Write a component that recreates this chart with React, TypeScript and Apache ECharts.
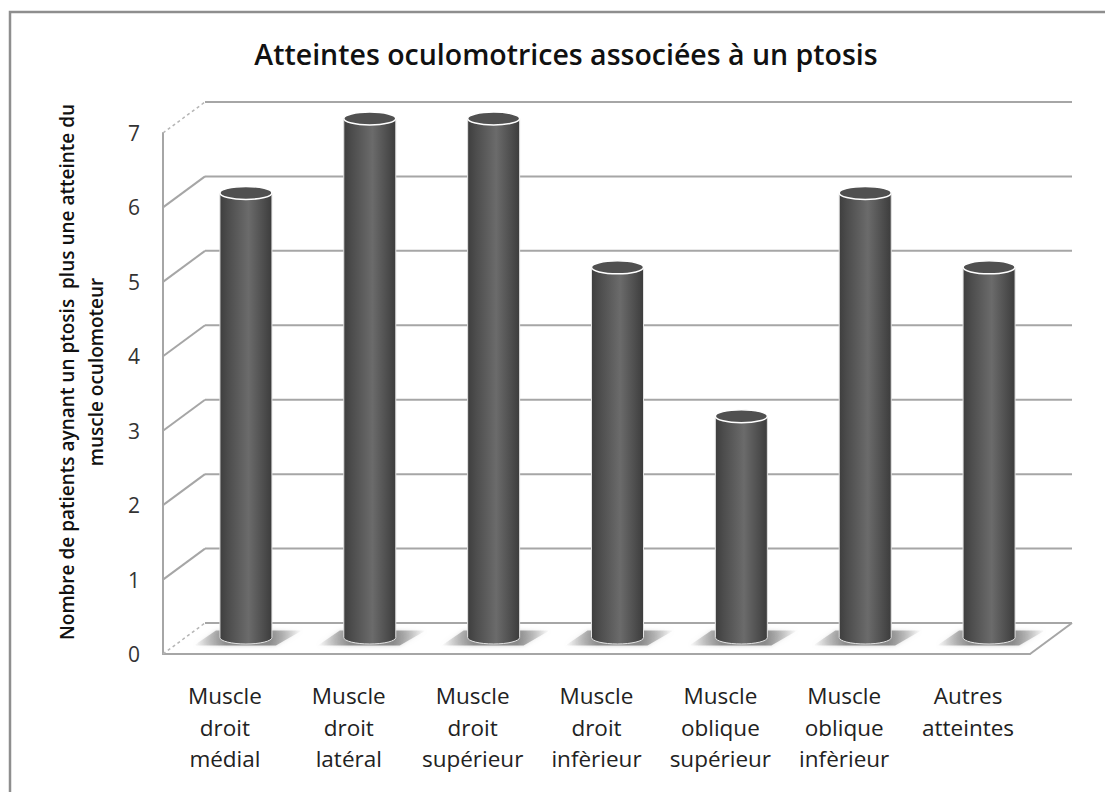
import React, { useEffect, useRef } from "react";
import * as echarts from "echarts";

const chartTitle = "Atteintes oculomotrices associées à un ptosis";
const yAxisTitle = "Nombre de patients aynant un ptosis  plus une atteinte du\nmuscle oculomoteur";
const categories = [
  "Muscle\ndroit\nmédial",
  "Muscle\ndroit\nlatéral",
  "Muscle\ndroit\nsupérieur",
  "Muscle\ndroit\ninfèrieur",
  "Muscle\noblique\nsupérieur",
  "Muscle\noblique\ninfèrieur",
  "Autres\natteintes",
];
const patients = [6, 7, 7, 5, 3, 6, 5];
const yTicks = [0, 1, 2, 3, 4, 5, 6, 7];

// Oblique projection of the pseudo-3D chart box
const DEPTH_X = 42;
const DEPTH_Y = -31;
const WALL = "#a6a6a6";
const FONT = "'Open Sans', Lato, sans-serif";

function horizontal(stops: [number, string][]) {
  return {
    type: "linear",
    x: 0,
    y: 0,
    x2: 1,
    y2: 0,
    colorStops: stops.map(([offset, color]) => ({ offset, color })),
  };
}

function renderWall(params: any, api: any) {
  const v = api.value(1);
  const y = api.coord([0, v])[1];
  const left = params.coordSys.x;
  const right = left + params.coordSys.width;
  const isEdge = v === 0 || v === 7;
  return {
    type: "group",
    children: [
      {
        type: "line",
        shape: { x1: left, y1: y, x2: left + DEPTH_X, y2: y + DEPTH_Y },
        style: { stroke: isEdge ? "#b5b5b5" : WALL, lineWidth: isEdge ? 1.5 : 2, lineDash: isEdge ? [3, 3] : undefined },
      },
      {
        type: "line",
        shape: { x1: left + DEPTH_X, y1: y + DEPTH_Y, x2: right + DEPTH_X, y2: y + DEPTH_Y },
        style: { stroke: WALL, lineWidth: 2 },
      },
    ],
  };
}

function renderFloorEdge(params: any) {
  const right = params.coordSys.x + params.coordSys.width;
  const y = params.coordSys.y + params.coordSys.height;
  return {
    type: "line",
    shape: { x1: right, y1: y, x2: right + DEPTH_X, y2: y + DEPTH_Y },
    style: { stroke: WALL, lineWidth: 2 },
  };
}

function renderCylinder(_params: any, api: any) {
  const top = api.coord([api.value(0), api.value(1)]);
  const base = api.coord([api.value(0), 0]);
  const cx = top[0] + DEPTH_X / 2;
  const yt = top[1] + DEPTH_Y / 2 + 1;
  const yb = base[1] + DEPTH_Y / 2 - 1;
  const rx = 26;
  const ry = 6.5;
  return {
    type: "group",
    children: [
      {
        type: "polygon",
        shape: {
          points: [
            [cx - 52, yb + 8],
            [cx - 30, yb - 7],
            [cx + 56, yb - 7],
            [cx + 30, yb + 8],
          ],
        },
        style: {
          fill: horizontal([
            [0, "rgba(125,125,125,0)"],
            [0.3, "rgba(125,125,125,0.85)"],
            [0.7, "rgba(125,125,125,0.85)"],
            [1, "rgba(125,125,125,0)"],
          ]),
          shadowBlur: 4,
          shadowColor: "rgba(160,160,160,0.6)",
        },
      },
      {
        type: "path",
        shape: {
          pathData: `M${cx - rx} ${yt}L${cx - rx} ${yb}A${rx} ${ry} 0 0 0 ${cx + rx} ${yb}L${cx + rx} ${yt}Z`,
          x: cx - rx,
          y: yt,
          width: rx * 2,
          height: yb - yt + ry,
        },
        style: {
          fill: horizontal([
            [0, "#3e3e3e"],
            [0.15, "#4c4c4c"],
            [0.55, "#6b6b6b"],
            [0.85, "#4c4c4c"],
            [1, "#3c3c3c"],
          ]),
          stroke: "#e2e2e2",
          lineWidth: 1,
        },
      },
      {
        type: "ellipse",
        shape: { cx, cy: yt, rx, ry },
        style: { fill: "#505050", stroke: "#ffffff", lineWidth: 1.5 },
      },
    ],
  };
}

export default function App() {
  const ref = useRef<HTMLDivElement>(null);

  useEffect(() => {
    const chart = echarts.init(ref.current!, null, { renderer: "svg" });
    chart.setOption({
      animation: false,
      backgroundColor: "#ffffff",
      title: {
        text: chartTitle,
        left: 561,
        top: 34,
        textAlign: "center",
        textStyle: { fontFamily: FONT, fontSize: 28.5, fontWeight: 600, color: "#111111" },
      },
      grid: { left: 163, right: 75, top: 133, bottom: 138 },
      xAxis: {
        type: "category",
        data: categories,
        axisTick: { show: false },
        axisLine: { show: true, lineStyle: { color: WALL, width: 2 } },
        axisLabel: {
          interval: 0,
          margin: 26,
          fontFamily: FONT,
          fontSize: 22.5,
          lineHeight: 31.5,
          color: "#222222",
        },
      },
      yAxis: {
        type: "value",
        min: 0,
        max: 7,
        interval: 1,
        splitLine: { show: false },
        axisTick: { show: false },
        axisLine: { show: true, lineStyle: { color: WALL, width: 2 } },
        axisLabel: { margin: 23, fontFamily: FONT, fontSize: 21, color: "#333333" },
      },
      series: [
        {
          type: "custom",
          silent: true,
          z: 1,
          renderItem: renderWall,
          data: yTicks.map((v) => [0, v]),
        },
        {
          type: "custom",
          silent: true,
          z: 1,
          renderItem: renderFloorEdge,
          data: [[0, 0]],
        },
        {
          type: "custom",
          silent: true,
          z: 3,
          renderItem: renderCylinder,
          data: patients.map((v, i) => [i, v]),
        },
      ],
      graphic: [
        {
          type: "polyline",
          silent: true,
          shape: { points: [[10, 792], [10, 12], [1105, 12]] },
          style: { stroke: "#8e8e8e", fill: "none", lineWidth: 2.5 },
        },
        {
          type: "text",
          silent: true,
          x: 81,
          y: 372,
          rotation: Math.PI / 2,
          style: {
            text: yAxisTitle,
            x: 0,
            y: 0,
            align: "center",
            verticalAlign: "middle",
            fontFamily: FONT,
            fontSize: 19,
            fontWeight: 600,
            lineHeight: 29,
            fill: "#111111",
          },
        },
      ],
    });
    return () => chart.dispose();
  }, []);

  return <div ref={ref} style={{ position: "fixed", left: 0, top: 0, width: 1105, height: 792 }} />;
}
